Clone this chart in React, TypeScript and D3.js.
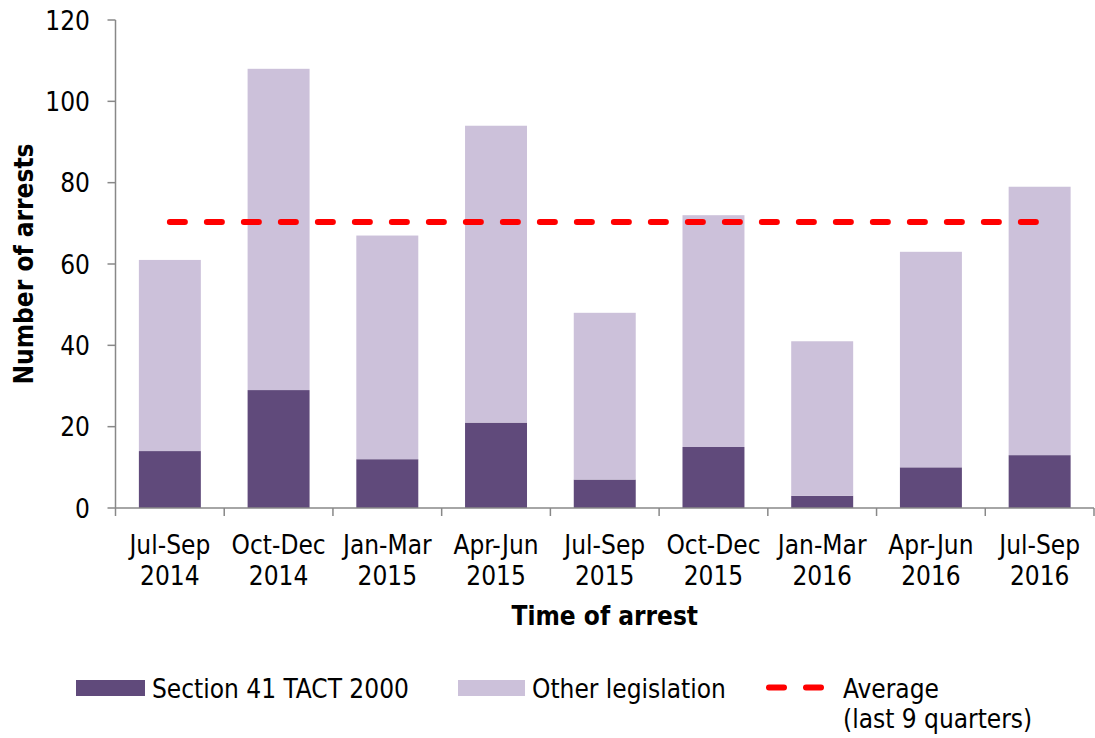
import React from "react";
import * as d3 from "d3";

const categories = ["Jul-Sep|2014", "Oct-Dec|2014", "Jan-Mar|2015", "Apr-Jun|2015", "Jul-Sep|2015", "Oct-Dec|2015", "Jan-Mar|2016", "Apr-Jun|2016", "Jul-Sep|2016"];
const section41 = [14, 29, 12, 21, 7, 15, 3, 10, 13];
const otherLegislation = [47, 79, 55, 73, 41, 57, 38, 53, 66];
const yTicks = [0, 20, 40, 60, 80, 100, 120];

const W = 1095, H = 738;
const FONT = "Tahoma, 'DejaVu Sans Condensed', 'DejaVu Sans', sans-serif";
const DARK = "#604A7B";
const LIGHT = "#CCC1DA";
const FS = 26;

export default function App() {
  const left = 115.5, right = 1094, top = 20, bottom = 508;
  const x = d3.scaleBand<string>().domain(categories).range([left, right]).paddingInner(0.43).paddingOuter(0.215);
  const y = d3.scaleLinear().domain([0, 120]).range([bottom, top]);
  const totals = categories.map((_, i) => section41[i] + otherLegislation[i]);
  const avg = d3.mean(totals) as number;
  const step = (right - left) / categories.length;
  const bw = x.bandwidth();
  const centers = categories.map((c) => (x(c) as number) + bw / 2);
  const avgLine = d3.line<number>().x((d) => d).y(() => y(avg));

  return (
    <svg width={W} height={H} style={{ position: "absolute", left: 0, top: 0 }} fontFamily={FONT}>
      <rect x={0} y={0} width={W} height={H} fill="white" />
      {categories.map((c, i) => (
        <g key={c + i}>
          <rect x={x(c)} y={y(section41[i])} width={bw} height={y(0) - y(section41[i])} fill={DARK} />
          <rect x={x(c)} y={y(totals[i])} width={bw} height={y(section41[i]) - y(totals[i])} fill={LIGHT} />
        </g>
      ))}
      <path d={avgLine([centers[0], centers[centers.length - 1]]) || ""} stroke="#FF0000" strokeWidth={6} strokeDasharray="15 22" strokeLinecap="round" fill="none" />
      {/* y axis */}
      <line x1={left} x2={left} y1={top} y2={bottom} stroke="#888" strokeWidth={1.5} />
      {yTicks.map((t) => (
        <g key={t}>
          <line x1={left - 8} x2={left} y1={y(t)} y2={y(t)} stroke="#888" strokeWidth={1.5} />
          <text x={90} y={y(t) + 9.5} textAnchor="end" fontSize={FS} fill="#000">{t}</text>
        </g>
      ))}
      {/* x axis */}
      <line x1={left} x2={right} y1={bottom} y2={bottom} stroke="#888" strokeWidth={1.5} />
      {d3.range(categories.length + 1).map((i) => (
        <line key={i} x1={left + i * step} x2={left + i * step} y1={bottom} y2={bottom + 8} stroke="#888" strokeWidth={1.5} />
      ))}
      {categories.map((c, i) => {
        const [a, b] = c.split("|");
        return (
          <text key={c + i} x={centers[i]} textAnchor="middle" fontSize={FS} fill="#000">
            <tspan x={centers[i]} y={554}>{a}</tspan>
            <tspan x={centers[i]} y={585}>{b}</tspan>
          </text>
        );
      })}
      <text x={(left + right) / 2} y={625} textAnchor="middle" fontSize={FS} fontWeight="bold">Time of arrest</text>
      <text transform={`translate(33,${(top + bottom) / 2}) rotate(-90)`} textAnchor="middle" fontSize={FS} fontWeight="bold">Number of arrests</text>
      {/* legend */}
      <rect x={76} y={680} width={69} height={16} fill={DARK} />
      <text x={152} y={698} fontSize={FS}>Section 41 TACT 2000</text>
      <rect x={458} y={680} width={67} height={16} fill={LIGHT} />
      <text x={532} y={698} fontSize={FS}>Other legislation</text>
      <line x1={769} x2={821} y1={687.5} y2={687.5} stroke="#FF0000" strokeWidth={6} strokeDasharray="15 22" strokeLinecap="round" />
      <text x={843} y={698} fontSize={FS}>Average</text>
      <text x={843} y={728} fontSize={FS}>(last 9 quarters)</text>
    </svg>
  );
}
